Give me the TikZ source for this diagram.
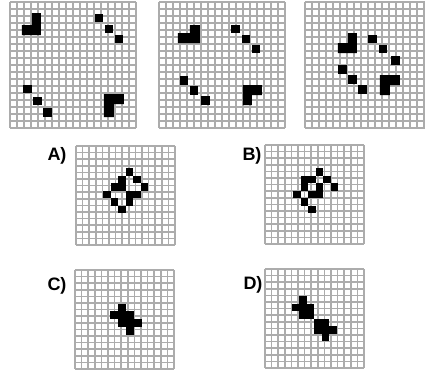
\documentclass[tikz,border=0pt]{standalone}
\usepackage{fontspec}
\setmainfont{Liberation Sans}
\usepackage{tikz}

% fill a list of lattice cells: origin x, origin y, cell size, list c/r
\newcommand{\cells}[4]{%
  \foreach \c/\r in {#4} {\fill[blob] ({#1+\c*#3},{#2+\r*#3}) rectangle ++(#3,#3);}}
% square grid: origin x, origin y, number of cells, cell size
\newcommand{\qgrid}[4]{%
  \foreach \i in {0,...,#3} {
    \draw[gridline] ({#1+\i*#4},#2) -- ({#1+\i*#4},{#2+#3*#4});
    \draw[gridline] (#1,{#2+\i*#4}) -- ({#1+#3*#4},{#2+\i*#4});
  }}

\begin{document}
\begin{tikzpicture}[
  x=0.5pt, y=-0.5pt,
  gridline/.style={gray!65, line width=0.85pt},
  blob/.style={fill=black},
  optlabel/.style={font=\fontsize{9}{10}\selectfont\bfseries, inner sep=0pt}
]
\useasboundingbox (0,0) rectangle (425,372);

% --- Top row: the three figures of the series ---
\qgrid{10}{2}{18}{7}
\qgrid{159}{2}{18}{7}
\begin{scope}
  % third grid runs off the right edge
  \clip (0,0) rectangle (425,372);
  \qgrid{305}{2}{18}{7}
\end{scope}

% Figure 1
\fill[blob] (32,13) -- (41,13) -- (41,35) -- (22,35) -- (22,25) -- (32,25) -- cycle;
\fill[blob] (95,14) rectangle (103,22);
\fill[blob] (105,25) rectangle (113,33);
\fill[blob] (115,35) rectangle (123,43);
\fill[blob] (23,85) rectangle (32,93);
\fill[blob] (33,97) rectangle (42,105);
\fill[blob] (43,108) rectangle (52,117);
\fill[blob] (104,94) -- (124,94) -- (124,104) -- (114,104) -- (114,117) -- (104,117) -- cycle;

% Figure 2
\fill[blob] (190,25) -- (200,25) -- (200,43) -- (178,43) -- (178,33) -- (190,33) -- cycle;
\fill[blob] (231,25) rectangle (240,33);
\fill[blob] (242,35) rectangle (250,43);
\fill[blob] (252,45) rectangle (260,53);
\fill[blob] (180,76) rectangle (188,85);
\fill[blob] (190,86) rectangle (198,95);
\fill[blob] (201,96) rectangle (210,105);
\fill[blob] (243,85) -- (262,85) -- (262,95) -- (252,95) -- (252,105) -- (243,105) -- cycle;

% Figure 3
\fill[blob] (348,33) -- (357,33) -- (357,53) -- (338,53) -- (338,43) -- (348,43) -- cycle;
\fill[blob] (368,35) rectangle (377,43);
\fill[blob] (379,45) rectangle (387,53);
\fill[blob] (391,56) rectangle (400,65);
\fill[blob] (338,65) rectangle (347,74);
\fill[blob] (348,75) rectangle (357,84);
\fill[blob] (358,85) rectangle (367,94);
\fill[blob] (380,75) -- (400,75) -- (400,85) -- (390,85) -- (390,95) -- (380,95) -- cycle;

% --- Answer options ---
\node[optlabel] (labA) at (57,156) {A)};
\node[optlabel] (labB) at (252,156) {B)};
\node[optlabel] (labC) at (57,286) {C)};
\node[optlabel] (labD) at (253,285) {D)};

\qgrid{76}{146}{15}{6.6}
\qgrid{265}{145}{15}{6.6}
\qgrid{75}{270}{15}{6.6}
\qgrid{265}{269}{15}{6.6}

% A
\cells{103.5}{168}{7.5}{3/0,4/1,5/2,0/3,1/4,2/5,2/1,1/2,2/2,3/3,4/3,3/4}
% B
\cells{293.5}{168}{7.5}{3/0,4/1,5/2,0/3,1/4,2/5,1/1,2/1,1/2,3/2,3/3,2/3}
% C
\cells{110.5}{303.5}{7.8}{1/0,0/1,1/1,2/1,1/2,2/2,3/2,2/3}
% D
\cells{292}{296}{7.5}{1/0,0/1,1/1,2/1,1/2,2/2,3/3,4/3,3/4,4/4,5/4,4/5}

\end{tikzpicture}
\end{document}
